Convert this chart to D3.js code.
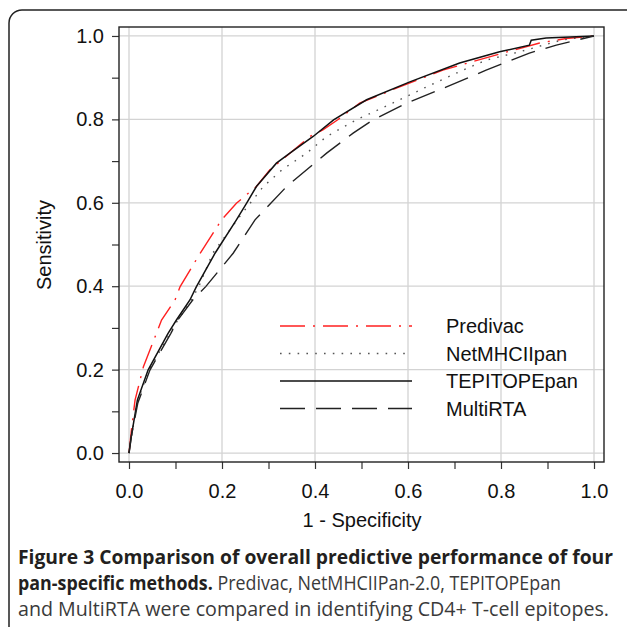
<!DOCTYPE html>
<html lang="en">
<head>
<meta charset="utf-8">
<title>ROC curves of four pan-specific methods</title>
<script src="https://cdn.jsdelivr.net/npm/d3@7"></script>
<style>
  body { margin: 0; background: #ffffff; }
  svg { display: block; }
  .tick text { font-family: "Liberation Sans", Arial, sans-serif; font-size: 20px; fill: #111; }
  .tick line { stroke: #333; stroke-width: 1.2px; }
  .cap { font-family: "Open Sans", sans-serif; font-size: 19.5px; fill: #3a3a3a; }
</style>
</head>
<body>
<script>
// ROC curves (x = 1 - specificity, y = sensitivity)
var predivacX = [0, 0.006, 0.013, 0.031, 0.059, 0.070, 0.099, 0.110, 0.153, 0.199, 0.231, 0.274, 0.303, 0.346, 0.389, 0.417, 0.449, 0.496, 0.582, 0.675, 0.804, 0.883, 0.940, 1.0]
var predivacY = [0, 0.063, 0.127, 0.207, 0.287, 0.319, 0.367, 0.399, 0.479, 0.559, 0.599, 0.639, 0.679, 0.719, 0.759, 0.775, 0.799, 0.839, 0.878, 0.918, 0.959, 0.983, 0.994, 1.0]

var netmhcX = [0, 0.005, 0.019, 0.043, 0.088, 0.105, 0.130, 0.150, 0.180, 0.240, 0.289, 0.330, 0.382, 0.425, 0.489, 0.567, 0.640, 0.718, 0.768, 0.840, 0.933, 1.0]
var netmhcY = [0, 0.040, 0.127, 0.199, 0.287, 0.319, 0.359, 0.399, 0.479, 0.570, 0.639, 0.680, 0.719, 0.759, 0.799, 0.839, 0.878, 0.918, 0.942, 0.962, 0.991, 1.0]

var tepitopeX = [0, 0.005, 0.018, 0.041, 0.084, 0.102, 0.131, 0.145, 0.185, 0.231, 0.253, 0.274, 0.317, 0.346, 0.396, 0.440, 0.511, 0.604, 0.711, 0.797, 0.861, 0.865, 0.897, 1.0]
var tepitopeY = [0, 0.040, 0.127, 0.199, 0.287, 0.319, 0.367, 0.399, 0.479, 0.559, 0.599, 0.639, 0.695, 0.719, 0.759, 0.799, 0.847, 0.890, 0.935, 0.962, 0.978, 0.990, 0.995, 1.0]

var multirtaX = [0, 0.005, 0.019, 0.045, 0.090, 0.105, 0.137, 0.165, 0.224, 0.271, 0.339, 0.425, 0.482, 0.525, 0.597, 0.683, 0.768, 0.861, 0.919, 1.0]
var multirtaY = [0, 0.040, 0.120, 0.199, 0.287, 0.319, 0.367, 0.399, 0.479, 0.559, 0.639, 0.719, 0.767, 0.799, 0.839, 0.878, 0.918, 0.959, 0.978, 1.0]

var seriesNames = ["Predivac", "NetMHCIIpan", "TEPITOPEpan", "MultiRTA"]
var tickVals = [0, 0.1, 0.2, 0.3, 0.4, 0.5, 0.6, 0.7, 0.8, 0.9, 1.0]
var gridVals = [0, 0.2, 0.4, 0.6, 0.8, 1.0]

var width = 627, height = 627
var box = {left: 119, right: 604, top: 27, bottom: 462}

var svg = d3.select("body").append("svg")
    .attr("width", width)
    .attr("height", height)

// outer frame with rounded corner
svg.append("rect")
    .attr("x", 9).attr("y", 10)
    .attr("width", 640).attr("height", 640)
    .attr("rx", 13)
    .attr("fill", "none")
    .attr("stroke", "#222")
    .attr("stroke-width", 1.5)

var x = d3.scaleLinear().domain([-0.0215, 1.0215]).range([box.left, box.right])
var y = d3.scaleLinear().domain([-0.0215, 1.0215]).range([box.bottom, box.top])

// grid
svg.selectAll(".gx").data(gridVals).enter().append("line")
    .attr("x1", function(d){ return x(d) }).attr("x2", function(d){ return x(d) })
    .attr("y1", box.top).attr("y2", box.bottom)
    .attr("stroke", "#d3d3d3").attr("stroke-width", 1.3)
svg.selectAll(".gy").data(gridVals).enter().append("line")
    .attr("y1", function(d){ return y(d) }).attr("y2", function(d){ return y(d) })
    .attr("x1", box.left).attr("x2", box.right)
    .attr("stroke", "#d3d3d3").attr("stroke-width", 1.3)

var fmt = function(d){ return Math.round(d * 10) % 2 === 0 ? d3.format(".1f")(d) : "" }

svg.append("g")
    .attr("transform", "translate(" + box.left + ",0)")
    .call(d3.axisLeft(y).tickValues(tickVals).tickFormat(fmt).tickSize(7).tickPadding(8))
    .call(function(g){ g.select(".domain").remove() })

svg.append("g")
    .attr("transform", "translate(0," + box.bottom + ")")
    .call(d3.axisBottom(x).tickValues(tickVals).tickFormat(fmt).tickSize(7).tickPadding(15))
    .call(function(g){ g.select(".domain").remove() })

// curves
var styles = [
  {xs: predivacX, ys: predivacY, color: "#ff2020", dash: "25,8,2,8", w: 1.4},
  {xs: netmhcX, ys: netmhcY, color: "#555", dash: "1.6,7.2", w: 1.4},
  {xs: tepitopeX, ys: tepitopeY, color: "#111", dash: null, w: 1.5},
  {xs: multirtaX, ys: multirtaY, color: "#222", dash: "25,11", w: 1.4}
]

var line = d3.line()
    .x(function(d){ return x(d[0]) })
    .y(function(d){ return y(d[1]) })

styles.forEach(function(s){
  svg.append("path")
     .datum(d3.zip(s.xs, s.ys))
     .attr("d", line)
     .attr("fill", "none")
     .attr("stroke", s.color)
     .attr("stroke-width", s.w)
     .attr("stroke-dasharray", s.dash)
})

// box
svg.append("rect")
    .attr("x", box.left).attr("y", box.top)
    .attr("width", box.right - box.left).attr("height", box.bottom - box.top)
    .attr("fill", "none").attr("stroke", "#222").attr("stroke-width", 1.4)

// legend
var legendY = [326, 353.5, 381, 408.5]
var leg = svg.selectAll(".leg").data(styles).enter().append("g")
leg.append("line")
    .attr("x1", 280).attr("x2", 412)
    .attr("y1", function(d,i){ return legendY[i] })
    .attr("y2", function(d,i){ return legendY[i] })
    .attr("stroke", function(d){ return d.color })
    .attr("stroke-width", function(d){ return d.w })
    .attr("stroke-dasharray", function(d){ return d.dash })
leg.append("text")
    .attr("x", 446)
    .attr("y", function(d,i){ return legendY[i] })
    .attr("dy", "0.36em")
    .style("font-family", "Liberation Sans, Arial, sans-serif")
    .style("font-size", "20px")
    .attr("fill", "#111")
    .text(function(d,i){ return seriesNames[i] })

// axis titles
svg.append("text")
    .attr("x", 362).attr("y", 520).attr("dy", "0.36em")
    .attr("text-anchor", "middle")
    .style("font-family", "Liberation Sans, Arial, sans-serif")
    .style("font-size", "20px")
    .attr("fill", "#111")
    .text("1 - Specificity")
svg.append("text")
    .attr("transform", "translate(44,245) rotate(-90)")
    .attr("dy", "0.36em")
    .attr("text-anchor", "middle")
    .style("font-family", "Liberation Sans, Arial, sans-serif")
    .style("font-size", "20px")
    .attr("fill", "#111")
    .text("Sensitivity")

// caption
var cap1 = svg.append("text").attr("class", "cap")
    .attr("x", 18).attr("y", 564).attr("textLength", 595).attr("lengthAdjust", "spacingAndGlyphs")
cap1.append("tspan").style("font-weight", "bold").attr("fill", "#231f20")
    .text("Figure 3 Comparison of overall predictive performance of four")

var cap2 = svg.append("text").attr("class", "cap")
    .attr("x", 18).attr("y", 590).attr("textLength", 543).attr("lengthAdjust", "spacingAndGlyphs")
cap2.append("tspan").style("font-weight", "bold").attr("fill", "#231f20").text("pan-specific methods.")
cap2.append("tspan").text(" Predivac, NetMHCIIPan-2.0, TEPITOPEpan")

svg.append("text").attr("class", "cap")
    .attr("x", 18).attr("y", 616).attr("textLength", 591).attr("lengthAdjust", "spacingAndGlyphs")
    .text("and MultiRTA were compared in identifying CD4+ T-cell epitopes.")
</script>
</body>
</html>
